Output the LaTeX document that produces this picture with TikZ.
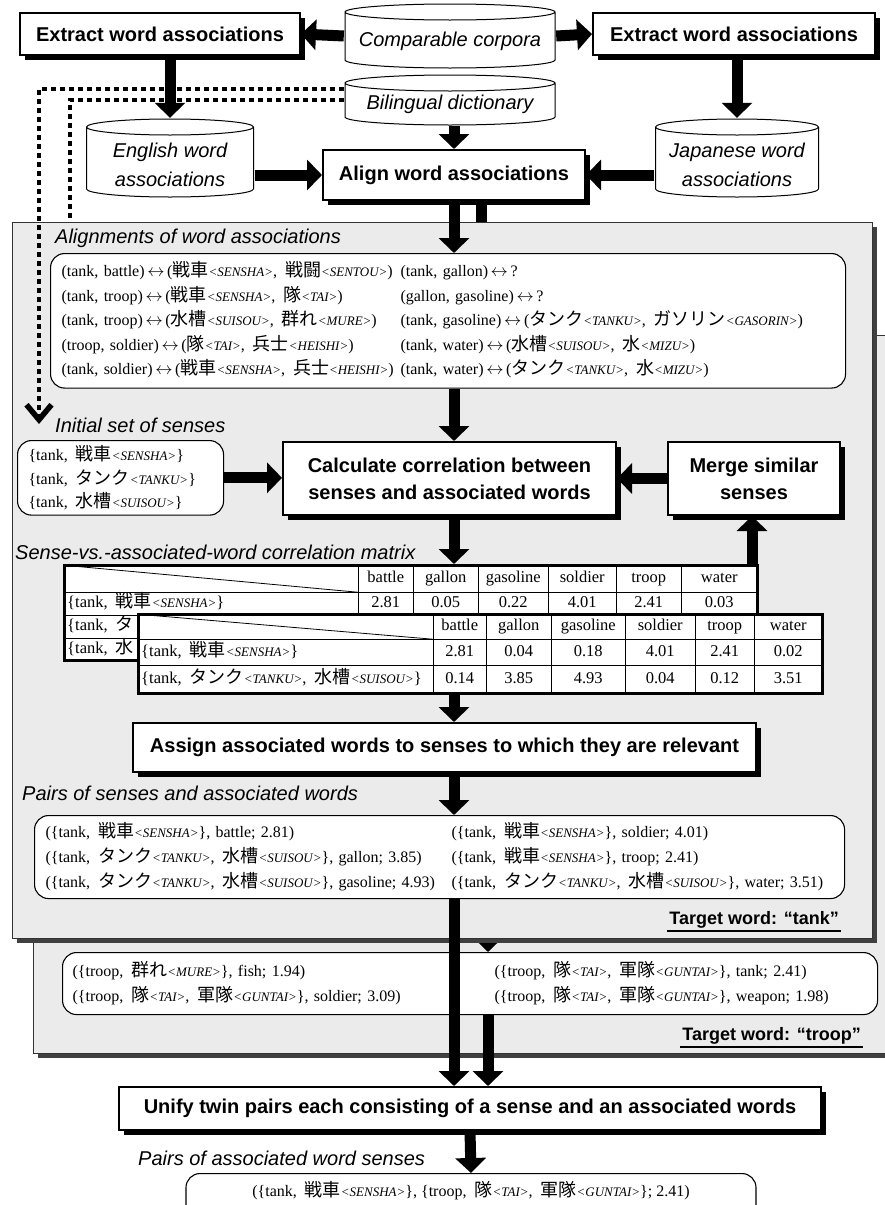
\documentclass[tikz,border=0pt]{standalone}
\usepackage{fontspec}
\setmainfont{Liberation Serif}
\newfontfamily\labfont{Liberation Sans}
\newfontfamily\jafont{Noto Sans CJK JP}
\usetikzlibrary{shapes.geometric, arrows.meta, positioning, calc, shadows, matrix}

\newcommand{\jc}[1]{{\jafont\fontsize{18}{24}\selectfont #1}}
\newcommand{\jw}[2]{\jc{#1}{\fontsize{13}{24}\selectfont\itshape <#2>}}
\newcommand{\jsp}{,\hspace{0.5em}}
\newcommand{\lra}{\,$\leftrightarrow$\,}
\newlength{\colw}
\newcommand{\lc}[1]{\makebox[\colw][l]{#1}}

\begin{document}
\begin{tikzpicture}[
        x=1pt, y=-1pt,
        proc/.style={
            draw,
            line width=2pt,
            fill=white,
            align=center,
            inner sep=0pt,
            font=\labfont\bfseries\fontsize{20}{27}\selectfont,
            drop shadow={fill=black, opacity=1, shadow xshift=5pt, shadow yshift=-5pt}
        },
        store/.style={
            rectangle,
            inner sep=0pt,
            path picture={
                \draw [line width=1pt, fill=white]
                    let \p1 = (path picture bounding box.north west),
                        \p2 = (path picture bounding box.south east),
                        \n1 = {(\x2-\x1)/2-1pt}
                    in
                    ([shift={(1pt,-9pt)}]\x1,\y1) -- ([shift={(1pt,9pt)}]\x1,\y2)
                    arc [start angle=180, end angle=360, x radius=\n1, y radius=8pt]
                    -- ([shift={(-1pt,-9pt)}]\x2,\y1)
                    arc [start angle=0, end angle=180, x radius=\n1, y radius=8pt]
                    -- cycle
                    ([shift={(1pt,-9pt)}]\x1,\y1)
                    arc [start angle=180, end angle=360, x radius=\n1, y radius=8pt];
            }
        },
        storetext/.style={
            align=center,
            inner sep=0pt,
            font=\labfont\itshape\fontsize{20}{29}\selectfont
        },
        panel/.style={
            draw=black!80,
            line width=1pt,
            fill=black!8,
            drop shadow={fill=black!75, opacity=1, shadow xshift=4pt, shadow yshift=-4pt}
        },
        textbox/.style={
            draw,
            line width=1.1pt,
            fill=white,
            rounded corners=14pt,
            align=left,
            inner xsep=11pt,
            inner ysep=6pt,
            font=\fontsize{16}{24.5}\selectfont
        },
        caption/.style={
            anchor=west,
            inner sep=0pt,
            font=\labfont\itshape\fontsize{20}{24}\selectfont
        },
        target/.style={
            anchor=east,
            inner sep=2pt,
            font=\labfont\bfseries\fontsize{18}{22}\selectfont
        },
        fat/.style={
            line width=11pt,
            -{Triangle[length=15pt, width=30pt]}
        },
        dots/.style={
            line width=4.5pt,
            dash pattern=on 5pt off 4pt
        },
        grid/.style={
            line width=0.8pt
        },
        tab/.style={
            matrix of nodes,
            nodes in empty cells,
            draw,
            line width=2.5pt,
            fill=white,
            inner sep=0pt,
            column sep=0pt,
            row sep=0pt,
            nodes={anchor=center, inner sep=0pt, outer sep=0pt,
                text height=12pt, text depth=4pt,
                font=\fontsize{16.5}{18}\selectfont}
        }
    ]

    \useasboundingbox (0,0) rectangle (885,1205);
    \clip (0,0) rectangle (885,1205);

    % Spines for the vertical flow
    \coordinate (spine) at (454,0);
    \coordinate (spine2) at (488,0);
    \coordinate (mspine) at (752,0);

    % Top row
    \node (ext1) [proc, minimum width=280pt, minimum height=42pt] at (160,34) {Extract word associations};
    \node (corp) [store, minimum width=212pt, minimum height=66pt] at (450,36) {};
    \node [storetext] at ([yshift=-5pt]corp.center) {Comparable corpora};
    \node (ext2) [proc, minimum width=282pt, minimum height=42pt] at (734,34) {Extract word associations};
    \node (dict) [store, minimum width=212pt, minimum height=52pt] at (450,100) {};
    \node [storetext] at ([yshift=-4pt]dict.center) {Bilingual dictionary};
    \node (eng) [store, minimum width=169pt, minimum height=80pt] at (170,158) {};
    \node [storetext] at ([yshift=-7pt]eng.center) {English word\\associations};
    \node (jp) [store, minimum width=165pt, minimum height=80pt] at (737,158) {};
    \node [storetext] at ([yshift=-7pt]jp.center) {Japanese word\\associations};
    \node (align) [proc, minimum width=262pt, minimum height=50pt] at (454,175) {Align word associations};

    \draw [fat] (corp.west) -- (ext1.east);
    \draw [fat] (corp.east) -- (ext2.west);
    \draw [fat] (ext1.south -| eng.north) -- (eng.north);
    \draw [fat] (ext2.south -| jp.north) -- (jp.north);
    \draw [fat] (eng.east |- align.west) -- (align.west);
    \draw [fat] (jp.west |- align.east) -- (align.east);
    \draw [fat] (dict.south -| spine) -- (align.north -| spine);

    % Target word "troop" (back panel)
    \node (trooppanel) [panel, anchor=north west, minimum width=860pt, minimum height=718pt] at (33,335) {};
    \node (troopbox) [textbox, anchor=north west, text width=795pt, inner xsep=10pt, font=\fontsize{16}{25}\selectfont] at (62,952) {%
        \setlength{\colw}{422pt}%
        \begin{tabular}{@{}l@{}l@{}}
        \lc{(\{troop\jsp\jw{群れ}{MURE}\}, fish; 1.94)} & (\{troop\jsp\jw{隊}{TAI}\jsp\jw{軍隊}{GUNTAI}\}, tank; 2.41)\\
        \lc{(\{troop\jsp\jw{隊}{TAI}\jsp\jw{軍隊}{GUNTAI}\}, soldier; 3.09)} & (\{troop\jsp\jw{隊}{TAI}\jsp\jw{軍隊}{GUNTAI}\}, weapon; 1.98)
        \end{tabular}};
    \node (trooplabel) [target] at (863,1036) {Target word: “troop”};
    \draw [line width=1.8pt] (trooplabel.south west) -- (trooplabel.south east);

    % Hidden parts of the back panel
    \coordinate (troopinit) at (70,400);
    \coordinate (trooprow) at (481,300);
    \coordinate (troopassign) at (488,900);
    \draw [dots] (dict.west) -| (troopinit);
    \draw [fat] (align.south -| trooprow) -- (trooprow);
    \draw [fat] (troopassign) -- (troopbox.north -| troopassign);

    % Target word "tank" (front panel)
    \node (tankpanel) [panel, anchor=north west, minimum width=860pt, minimum height=716pt] at (12,222) {};

    \node (alignlabel) [caption] at (55,238) {Alignments of word associations};
    \node (alignbox) [textbox, anchor=north west, text width=773pt] at (50,253) {%
        \setlength{\colw}{339pt}%
        \begin{tabular}{@{}l@{}l@{}}
        \lc{(tank, battle)\lra(\jw{戦車}{SENSHA}\jsp\jw{戦闘}{SENTOU})} & (tank, gallon)\lra?\\
        \lc{(tank, troop)\lra(\jw{戦車}{SENSHA}\jsp\jw{隊}{TAI})} & (gallon, gasoline)\lra?\\
        \lc{(tank, troop)\lra(\jw{水槽}{SUISOU}\jsp\jw{群れ}{MURE})} & (tank, gasoline)\lra(\jw{タンク}{TANKU}\jsp\jw{ガソリン}{GASORIN})\\
        \lc{(troop, soldier)\lra(\jw{隊}{TAI}\jsp\jw{兵士}{HEISHI})} & (tank, water)\lra(\jw{水槽}{SUISOU}\jsp\jw{水}{MIZU})\\
        \lc{(tank, soldier)\lra(\jw{戦車}{SENSHA}\jsp\jw{兵士}{HEISHI})} & (tank, water)\lra(\jw{タンク}{TANKU}\jsp\jw{水}{MIZU})
        \end{tabular}};

    \coordinate (vtip) at (39,424);
    \node (initlabel) [caption] at (55,425) {Initial set of senses};
    \node (initbox) [textbox, anchor=north west, text width=184pt, inner ysep=5pt, font=\fontsize{16}{23.5}\selectfont] at (17,440) {%
        \mbox{\{tank\jsp\jw{戦車}{SENSHA}\}}\\
        \mbox{\{tank\jsp\jw{タンク}{TANKU}\}}\\
        \mbox{\{tank\jsp\jw{水槽}{SUISOU}\}}};
    \node (calc) [proc, minimum width=333pt, minimum height=73pt] at (449.5,478.5) {Calculate correlation between\\senses and associated words};
    \node (merge) [proc, minimum width=172pt, minimum height=73pt] at (754,478.5) {Merge similar\\senses};

    \node (matlabel) [caption] at (15,552) {Sense-vs.-associated-word correlation matrix};
    \matrix (backtab) [tab, anchor=north west,
            column 1/.style={nodes={text width=288pt, inner xsep=3pt, align=left}},
            column 2/.style={nodes={minimum width=55pt}},
            column 3/.style={nodes={minimum width=65pt}},
            column 4/.style={nodes={minimum width=70pt}},
            column 5/.style={nodes={minimum width=68pt}},
            column 6/.style={nodes={minimum width=65pt}},
            column 7/.style={nodes={minimum width=76pt}},
            row 1/.style={nodes={minimum height=27pt}},
            row 2/.style={nodes={minimum height=23pt}},
            row 3/.style={nodes={minimum height=23pt}},
            row 4/.style={nodes={minimum height=22pt}}] at (63,564) {
        & battle & gallon & gasoline & soldier & troop & water \\
        \mbox{\{tank\jsp\jw{戦車}{SENSHA}\}} & 2.81 & 0.05 & 0.22 & 4.01 & 2.41 & 0.03 \\
        \mbox{\{tank\jsp\jc{タ}} & & & & & & \\
        \mbox{\{tank\jsp\jc{水}} & & & & & & \\
    };
    \foreach \c in {1,...,6}
        \draw [grid] (backtab-1-\c.north east) -- (backtab-4-\c.south east);
    \foreach \r in {1,2,3}
        \draw [grid] (backtab-\r-1.south west) -- (backtab-\r-7.south east);
    \draw [grid] (backtab-1-1.north west) -- (backtab-1-1.south east);

    \matrix (fronttab) [tab, anchor=north west,
            column 1/.style={nodes={text width=289pt, inner xsep=3pt, align=left}},
            column 2/.style={nodes={minimum width=53pt}},
            column 3/.style={nodes={minimum width=65pt}},
            column 4/.style={nodes={minimum width=74pt}},
            column 5/.style={nodes={minimum width=70pt}},
            column 6/.style={nodes={minimum width=59pt}},
            column 7/.style={nodes={minimum width=68pt}},
            row 1/.style={nodes={minimum height=25pt}},
            row 2/.style={nodes={minimum height=26pt}},
            row 3/.style={nodes={minimum height=28pt}}] at (137,613) {
        & battle & gallon & gasoline & soldier & troop & water \\
        \mbox{\{tank\jsp\jw{戦車}{SENSHA}\}} & 2.81 & 0.04 & 0.18 & 4.01 & 2.41 & 0.02 \\
        \mbox{\{tank\jsp\jw{タンク}{TANKU}\jsp\jw{水槽}{SUISOU}\}} & 0.14 & 3.85 & 4.93 & 0.04 & 0.12 & 3.51 \\
    };
    \foreach \c in {1,...,6}
        \draw [grid] (fronttab-1-\c.north east) -- (fronttab-3-\c.south east);
    \foreach \r in {1,2}
        \draw [grid] (fronttab-\r-1.south west) -- (fronttab-\r-7.south east);
    \draw [grid] (fronttab-1-1.north west) -- (fronttab-1-1.south east);

    \node (assign) [proc, minimum width=623pt, minimum height=49pt] at (444.5,747.5) {Assign associated words to senses to which they are relevant};

    \node (pairslabel) [caption] at (22,793) {Pairs of senses and associated words};
    \node (pairsbox) [textbox, anchor=north west, text width=788pt, inner ysep=4pt, font=\fontsize{16}{25}\selectfont] at (34,815) {%
        \setlength{\colw}{406pt}%
        \begin{tabular}{@{}l@{}l@{}}
        \lc{(\{tank\jsp\jw{戦車}{SENSHA}\}, battle; 2.81)} & (\{tank\jsp\jw{戦車}{SENSHA}\}, soldier; 4.01)\\
        \lc{(\{tank\jsp\jw{タンク}{TANKU}\jsp\jw{水槽}{SUISOU}\}, gallon; 3.85)} & (\{tank\jsp\jw{戦車}{SENSHA}\}, troop; 2.41)\\
        \lc{(\{tank\jsp\jw{タンク}{TANKU}\jsp\jw{水槽}{SUISOU}\}, gasoline; 4.93)} & (\{tank\jsp\jw{タンク}{TANKU}\jsp\jw{水槽}{SUISOU}\}, water; 3.51)
        \end{tabular}};
    \node (tanklabel) [target] at (841,920) {Target word: “tank”};
    \draw [line width=1.8pt] (tanklabel.south west) -- (tanklabel.south east);

    % Flow inside the front panel
    \draw [dots, -{Straight Barb[length=15pt, width=25pt, line width=5.5pt]}] ([yshift=11pt]dict.west) -| (vtip);
    \draw [fat] (align.south -| spine) -- (alignbox.north -| spine);
    \draw [fat] (alignbox.south -| spine) -- (calc.north -| spine);
    \draw [fat] (initbox.east) -- (initbox.east -| calc.west);
    \draw [fat] (merge.west) -- (calc.east);
    \draw [fat] (calc.south -| spine) -- (backtab.north -| spine);
    \draw [fat] (backtab.north -| mspine) -- (merge.south -| mspine);
    \draw [fat] (fronttab.south -| spine) -- (assign.north -| spine);
    \draw [fat] (assign.south -| spine) -- (pairsbox.north -| spine);

    % Unification
    \node (unify) [proc, minimum width=702pt, minimum height=43pt] at (470,1108.5) {Unify twin pairs each consisting of a sense and an associated words};
    \node (finallabel) [caption] at (138,1158) {Pairs of associated word senses};
    \node (finalbox) [textbox, anchor=north, minimum width=570pt, align=center, text height=17pt, text depth=40pt] at (471,1173) {%
        (\{tank\jsp\jw{戦車}{SENSHA}\}, \{troop\jsp\jw{隊}{TAI}\jsp\jw{軍隊}{GUNTAI}\}; 2.41)};

    \draw [fat] (pairsbox.south -| spine) -- (unify.north -| spine);
    \draw [fat] (troopbox.south -| spine2) -- (unify.north -| spine2);
    \draw [fat] (unify.south) -- (finalbox.north);

\end{tikzpicture}
\end{document}
